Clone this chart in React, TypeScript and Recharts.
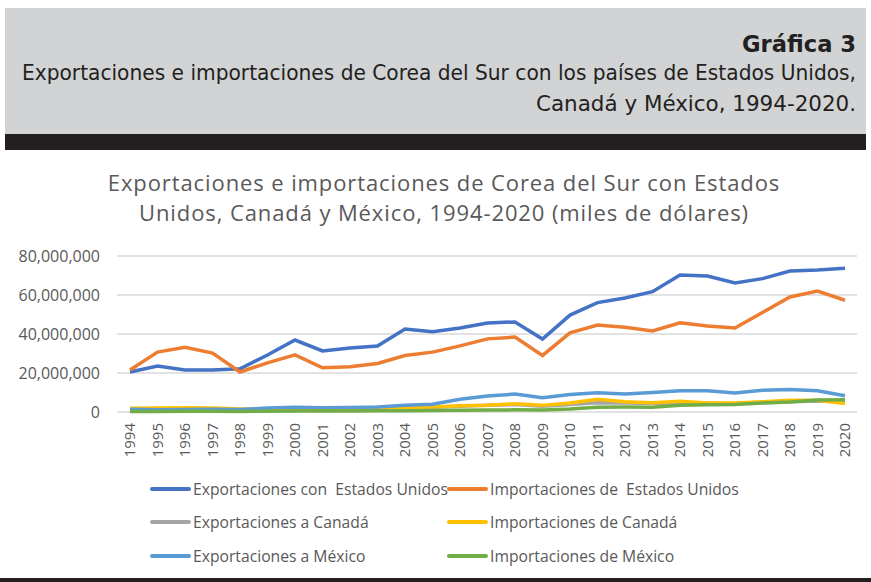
import React from "react";
import { LineChart, Line, XAxis, YAxis, CartesianGrid } from "recharts";

const years = [
  "1994", "1995", "1996", "1997", "1998", "1999", "2000", "2001", "2002",
  "2003", "2004", "2005", "2006", "2007", "2008", "2009", "2010", "2011",
  "2012", "2013", "2014", "2015", "2016", "2017", "2018", "2019", "2020",
];

// millions
const expUS = [
  20.5, 23.6, 21.5, 21.5, 22.2, 29.2, 36.9, 31.3, 32.8, 33.8, 42.6, 41.2, 43.1,
  45.6, 46.2, 37.4, 49.7, 56.1, 58.5, 61.7, 70.3, 69.7, 66.2, 68.4, 72.3, 72.8, 73.7,
];
const impUS = [
  21.5, 30.7, 33.2, 30.2, 20.5, 25.2, 29.3, 22.7, 23.2, 24.9, 29.0, 30.7, 33.9,
  37.5, 38.4, 29.0, 40.6, 44.6, 43.5, 41.6, 45.7, 44.1, 43.1, 51.0, 59.0, 62.0, 57.3,
];
const expCan = [
  1.0, 1.2, 1.3, 1.3, 1.0, 1.2, 1.5, 1.4, 1.5, 1.7, 2.0, 2.4, 3.0,
  3.4, 3.8, 3.0, 3.8, 4.8, 4.6, 4.4, 4.6, 4.4, 4.4, 4.8, 5.2, 5.6, 5.2,
];
const impCan = [
  1.9, 2.1, 2.2, 2.1, 1.6, 1.6, 1.8, 1.7, 1.8, 1.9, 2.3, 2.6, 3.2,
  3.4, 4.2, 3.4, 4.6, 6.5, 5.3, 4.8, 5.5, 4.6, 4.6, 5.3, 6.0, 6.0, 4.4,
];
const expMex = [
  1.4, 1.2, 1.3, 1.4, 1.3, 2.0, 2.4, 2.2, 2.3, 2.6, 3.4, 4.0, 6.5,
  8.2, 9.2, 7.3, 9.0, 9.9, 9.2, 10.0, 10.9, 10.9, 9.7, 11.1, 11.6, 10.9, 8.3,
];
const impMex = [
  0.3, 0.3, 0.4, 0.4, 0.3, 0.4, 0.5, 0.5, 0.5, 0.6, 0.7, 0.8, 0.9,
  1.0, 1.1, 1.0, 1.5, 2.4, 2.6, 2.5, 3.5, 3.7, 3.9, 4.6, 5.1, 6.1, 6.3,
];

const yTicks = [0, 20000000, 40000000, 60000000, 80000000];

const titleLines = [
  "Exportaciones e importaciones de Corea del Sur con Estados",
  "Unidos, Canadá y México, 1994-2020 (miles de dólares)",
];

const series = [
  { key: "expUS", name: "Exportaciones con  Estados Unidos", color: "#4472C4" },
  { key: "impUS", name: "Importaciones de  Estados Unidos", color: "#ED7D31" },
  { key: "expCan", name: "Exportaciones a Canadá", color: "#A5A5A5" },
  { key: "impCan", name: "Importaciones de Canadá", color: "#FFC000" },
  { key: "expMex", name: "Exportaciones a México", color: "#5B9BD5" },
  { key: "impMex", name: "Importaciones de México", color: "#70AD47" },
];

const M = 1000000;
const data = years.map((year, i) => ({
  year,
  expUS: expUS[i] * M,
  impUS: impUS[i] * M,
  expCan: expCan[i] * M,
  impCan: impCan[i] * M,
  expMex: expMex[i] * M,
  impMex: impMex[i] * M,
}));

const font = "Open Sans, sans-serif";
const grey = "#595959";
const headFont = "DejaVu Sans Condensed, sans-serif";

const YearTick = (props: any) => {
  const { x, y, payload } = props;
  return (
    <text
      x={x}
      y={y}
      dy={5}
      transform={`rotate(-90 ${x} ${y})`}
      textAnchor="end"
      fill={grey}
      fontSize={15}
      fontFamily={font}>
      {payload.value}
    </text>
  );
};

const Header = () => (
  <svg width={871} height={160} style={{ position: "absolute", left: 0, top: 0 }}>
    <rect x={5} y={8} width={861} height={126} fill="#d1d3d4" />
    <rect x={5} y={134} width={861} height={16} fill="#231f20" />
    <text
      x={856}
      y={52}
      textAnchor="end"
      fontFamily={headFont}
      fontWeight="bold"
      fontSize={23}
      fill="#231f20"
      textLength={114}
      lengthAdjust="spacingAndGlyphs">
      Gráfica 3
    </text>
    <text
      x={856}
      y={80}
      textAnchor="end"
      fontFamily={headFont}
      fontSize={22}
      fill="#231f20"
      textLength={834}
      lengthAdjust="spacingAndGlyphs">
      Exportaciones e importaciones de Corea del Sur con los países de Estados Unidos,
    </text>
    <text
      x={856}
      y={111}
      textAnchor="end"
      fontFamily={headFont}
      fontSize={22}
      fill="#231f20"
      textLength={320}
      lengthAdjust="spacingAndGlyphs">
      Canadá y México, 1994-2020.
    </text>
  </svg>
);

export default function App() {
  return (
    <div
      style={{
        position: "absolute",
        left: 0,
        top: 0,
        width: 871,
        height: 582,
        background: "#ffffff",
        overflow: "hidden",
        fontFamily: font,
      }}>
      <Header />
      {titleLines.map((t, i) => (
        <div
          key={i}
          style={{
            position: "absolute",
            left: 0,
            width: 888,
            top: 166.5 + i * 30,
            height: 30,
            textAlign: "center",
            color: grey,
            fontSize: 22,
            letterSpacing: 0.9,
            lineHeight: "30px",
            whiteSpace: "nowrap",
          }}>
          {t}
        </div>
      ))}
      <div style={{ position: "absolute", left: 0, top: 0 }}>
        <LineChart
          width={871}
          height={582}
          data={data}
          margin={{ top: 256, right: 14, bottom: 120, left: 0 }}>
          <CartesianGrid vertical={false} stroke="#d9d9d9" strokeWidth={1.5} />
          <XAxis
            dataKey="year"
            axisLine={false}
            tickLine={false}
            tickSize={0}
            tickMargin={11}
            height={50}
            interval={0}
            padding={{ left: 13, right: 12 }}
            tick={<YearTick />}
          />
          <YAxis
            width={117}
            domain={[0, 80000000]}
            ticks={yTicks}
            axisLine={false}
            tickLine={false}
            tickMargin={11}
            tickFormatter={(v: number) => v.toLocaleString("en-US")}
            tick={{ fill: grey, fontSize: 16, fontFamily: font }}
          />
          {series.map((s) => (
            <Line
              key={s.key}
              type="linear"
              dataKey={s.key}
              name={s.name}
              stroke={s.color}
              strokeWidth={3.5}
              dot={false}
              isAnimationActive={false}
            />
          ))}
        </LineChart>
      </div>
      <div style={{ position: "absolute", left: 0, top: 0, width: 871, height: 582, pointerEvents: "none" }}>
        {series.map((s, i) => {
          const col = i % 2;
          const row = Math.floor(i / 2);
          return (
            <div
              key={s.key}
              style={{
                position: "absolute",
                left: col === 0 ? 150 : 447,
                top: [479, 512, 546][row],
                display: "flex",
                alignItems: "center",
                height: 20,
                color: grey,
                fontSize: 15.7,
                whiteSpace: "pre",
              }}>
              <span
                style={{
                  display: "inline-block",
                  width: 41,
                  height: 4,
                  background: s.color,
                  borderRadius: 2,
                  marginRight: 2,
                }}
              />
              {s.name}
            </div>
          );
        })}
      </div>
      <div style={{ position: "absolute", left: 0, top: 578, width: 871, height: 4, background: "#231f20" }} />
    </div>
  );
}
